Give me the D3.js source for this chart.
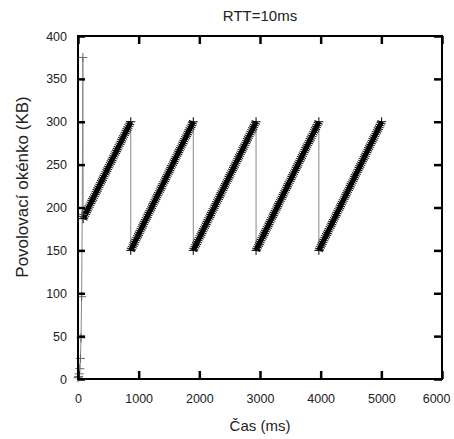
<!DOCTYPE html>
<html>
<head>
<meta charset="utf-8">
<script src="https://cdn.jsdelivr.net/npm/d3@7"></script>
<style>
body { margin: 0; background: #fff; }
text { font-family: Arial, "Liberation Sans", sans-serif; fill: #222; }
</style>
</head>
<body>
<script>
var w = 454,
    h = 439;

var margin = {top: 36, right: 12, bottom: 60, left: 78};

var width = w - margin.left - margin.right,
    height = h - margin.top - margin.bottom;

// slow start (one point per RTT)
var ssTime = [0, 10, 20, 30, 40, 50, 60, 70, 80];
var ssWin = [1.5, 3, 6, 12, 24, 48, 96, 192, 375];

// congestion avoidance ramps
var rampStartTime = [85, 870, 1900, 2935, 3970];
var rampStartWin = [187, 150, 150, 150, 150];
var rampEndTime = [870, 1900, 2935, 3970, 5005];
var rampEndWin = [300, 300, 300, 300, 300];

var xTicks = [0, 1000, 2000, 3000, 4000, 5000, 6000];
var yTicks = [0, 50, 100, 150, 200, 250, 300, 350, 400];

var x = d3.scaleLinear().domain([0, 6000]).range([0, width]);
var y = d3.scaleLinear().domain([0, 400]).range([height, 0]);

var svg = d3.select("body").append("svg")
    .attr("width", w)
    .attr("height", h);

var chart = svg.append("g")
    .attr("transform", "translate(" + margin.left + "," + margin.top + ")");

// whole trace as one thin line
var trace = ssTime.map(function(t, i) { return [t, ssWin[i]]; });
rampStartTime.forEach(function(t, i) {
    trace.push([t, rampStartWin[i]]);
    trace.push([rampEndTime[i], rampEndWin[i]]);
});

var line = d3.line()
    .x(function(d) { return x(d[0]); })
    .y(function(d) { return y(d[1]); });

chart.append("path")
    .attr("d", line(trace))
    .attr("fill", "none")
    .attr("stroke", "#888")
    .attr("stroke-width", 1);

// dense "+" markers along each ramp, drawn as a textured band
var ramps = rampStartTime.map(function(t, i) {
    return [[t, rampStartWin[i]], [rampEndTime[i], rampEndWin[i]]];
});

chart.selectAll(".band-out")
    .data(ramps)
    .enter().append("path")
    .attr("class", "band-out")
    .attr("d", line)
    .attr("fill", "none")
    .attr("stroke", "#111")
    .attr("stroke-width", 9)
    .attr("stroke-dasharray", "1,1");

chart.selectAll(".band-in")
    .data(ramps)
    .enter().append("path")
    .attr("class", "band-in")
    .attr("d", line)
    .attr("fill", "none")
    .attr("stroke", "#000")
    .attr("stroke-width", 5);

function plus(sel, size) {
    sel.append("line").attr("x1", -size).attr("x2", size).attr("y1", 0).attr("y2", 0);
    sel.append("line").attr("x1", 0).attr("x2", 0).attr("y1", -size).attr("y2", size);
}

chart.selectAll(".ss")
    .data(trace.slice(0, ssTime.length))
    .enter().append("g")
    .attr("class", "ss")
    .attr("transform", function(d) { return "translate(" + x(d[0]) + "," + y(d[1]) + ")"; })
    .attr("stroke", "#666")
    .attr("stroke-width", 1)
    .call(plus, 4.5);

chart.selectAll(".ends")
    .data([].concat.apply([], ramps))
    .enter().append("g")
    .attr("class", "ends")
    .attr("transform", function(d) { return "translate(" + x(d[0]) + "," + y(d[1]) + ")"; })
    .attr("stroke", "#000")
    .attr("stroke-width", 1)
    .call(plus, 4.5);

// axes with inward ticks on all four sides
function styleAxis(g) {
    g.select(".domain").remove();
    g.selectAll(".tick line").attr("stroke", "#000").attr("stroke-width", 2.5);
    g.selectAll(".tick text").attr("font-size", 12.5).attr("fill", "#222");
}

var xAxis = chart.append("g")
    .attr("transform", "translate(0," + height + ")")
    .call(d3.axisBottom(x).tickValues(xTicks).tickSize(-8).tickPadding(15).tickFormat(d3.format("d")))
    .call(styleAxis);

// last label sits a bit left so it stays inside the picture
xAxis.selectAll(".tick text")
    .filter(function(d) { return d === 6000; })
    .attr("text-anchor", "end")
    .attr("dx", 8);

chart.append("g")
    .call(d3.axisTop(x).tickValues(xTicks).tickSize(-8).tickFormat(""))
    .call(styleAxis);

chart.append("g")
    .call(d3.axisLeft(y).tickValues(yTicks).tickSize(-7).tickPadding(11))
    .call(styleAxis);

chart.append("g")
    .attr("transform", "translate(" + width + ",0)")
    .call(d3.axisRight(y).tickValues(yTicks).tickSize(-8).tickFormat(""))
    .call(styleAxis);

chart.append("rect")
    .attr("width", width)
    .attr("height", height)
    .attr("fill", "none")
    .attr("stroke", "#000")
    .attr("stroke-width", 2);

// titles
svg.append("text")
    .attr("x", margin.left + width / 2)
    .attr("y", 21)
    .attr("text-anchor", "middle")
    .attr("font-size", 15)
    .text("RTT=10ms");

svg.append("text")
    .attr("x", margin.left + width / 2)
    .attr("y", 431)
    .attr("text-anchor", "middle")
    .attr("font-size", 15)
    .text("Čas (ms)");

svg.append("text")
    .attr("transform", "translate(28,187) rotate(-90)")
    .attr("text-anchor", "middle")
    .attr("font-size", 17)
    .text("Povolovací okénko (KB)");
</script>
</body>
</html>
